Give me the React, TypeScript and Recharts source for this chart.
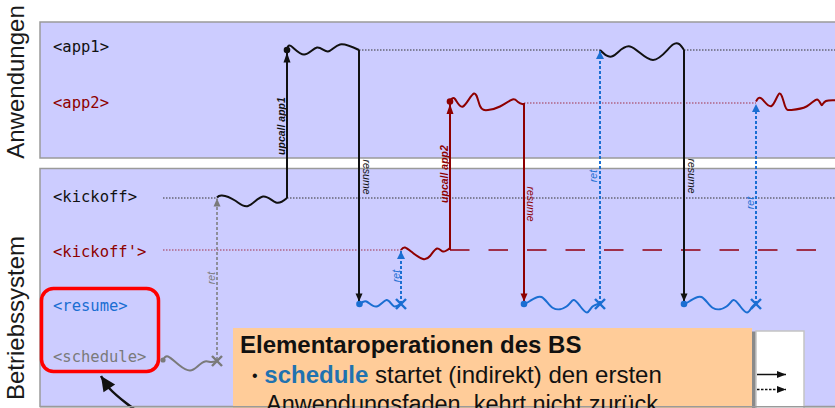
import React from 'react';
import { ComposedChart, Line, Scatter, XAxis, YAxis, ReferenceArea } from 'recharts';

type Pt = { x: number; y: number };

// ---------- lanes ----------
const laneNames = ['<app1>', '<app2>', '<kickoff>', "<kickoff'>", '<resume>', '<schedule>'];
const laneY = [50, 103, 198, 250, 304, 360];
const laneTextY = [51.5, 108, 201.5, 256.5, 311, 361.5];
const groupNames = ['Anwendungen', 'Betriebssystem'];
const groupCenters = [82, 318];

// ---------- event times ----------
const tSchedule = 163;
const tRet0 = 217;
const tUpcall1 = 287;
const tResume1 = 359;
const tRet1 = 401;
const tUpcall2 = 450;
const tResume2 = 524;
const tRet2 = 600;
const tResume3 = 684;
const tRet3 = 756;
const tDashEnd = 818;
const tEnd = 840;

// ---------- thread activity (squiggles) ----------
const app1Run1: Pt[] = [
  { x: 287, y: 50 }, { x: 291, y: 46 }, { x: 304, y: 54.5 }, { x: 317, y: 47.5 },
  { x: 328, y: 51.5 }, { x: 340, y: 44.5 }, { x: 359, y: 50 },
];
const app1Run2: Pt[] = [
  { x: 600, y: 50 }, { x: 613, y: 56 }, { x: 630, y: 46.5 }, { x: 653, y: 60 },
  { x: 673, y: 44.5 }, { x: 684, y: 50 },
];
const app2Run1: Pt[] = [
  { x: 450, y: 101 }, { x: 455, y: 99 }, { x: 463, y: 106.5 }, { x: 474, y: 93.5 },
  { x: 480, y: 106 }, { x: 488, y: 110 }, { x: 500, y: 106.5 }, { x: 512.5, y: 99.5 },
  { x: 518, y: 102 }, { x: 524, y: 104.5 },
];
const app2Run2: Pt[] = [
  { x: 756, y: 101.5 }, { x: 761.5, y: 98.5 }, { x: 771.5, y: 106 }, { x: 779.5, y: 93.5 },
  { x: 785, y: 106 }, { x: 791.5, y: 110 }, { x: 806.5, y: 106.5 }, { x: 817, y: 99.5 },
  { x: 821.5, y: 105 }, { x: 826, y: 101 }, { x: 840, y: 100.5 },
];
const kickoffRun: Pt[] = [
  { x: 217, y: 197.5 }, { x: 222, y: 195.5 }, { x: 235, y: 200.5 }, { x: 248, y: 206 },
  { x: 263, y: 196.5 }, { x: 276, y: 202.5 }, { x: 287, y: 198 },
];
const kickoffPRun: Pt[] = [
  { x: 401, y: 250 }, { x: 405, y: 247.5 }, { x: 413, y: 253 }, { x: 423, y: 259 },
  { x: 430, y: 256 }, { x: 437, y: 248.5 }, { x: 443, y: 251.5 }, { x: 450, y: 248 },
];
const resumeRun1: Pt[] = [
  { x: 360, y: 304 }, { x: 366.5, y: 301.5 }, { x: 376.5, y: 306.5 }, { x: 386.5, y: 300 },
  { x: 393.5, y: 306 }, { x: 401, y: 303.5 },
];
const resumeRun2: Pt[] = [
  { x: 524, y: 304 }, { x: 530, y: 301 }, { x: 541.5, y: 297 }, { x: 553, y: 308 },
  { x: 566.5, y: 306.5 }, { x: 573.5, y: 300 }, { x: 580, y: 306 }, { x: 587, y: 312.5 },
  { x: 592, y: 307 }, { x: 600, y: 303.5 },
];
const resumeRun3: Pt[] = [
  { x: 684, y: 304 }, { x: 690, y: 301 }, { x: 701.5, y: 297 }, { x: 713, y: 308 },
  { x: 726.5, y: 306.5 }, { x: 733.5, y: 300 }, { x: 740, y: 306 }, { x: 747, y: 312.5 },
  { x: 752, y: 307 }, { x: 756, y: 303.5 },
];
const scheduleRun: Pt[] = [
  { x: 163, y: 360 }, { x: 168, y: 356.5 }, { x: 179, y: 365 }, { x: 190, y: 370.5 },
  { x: 198, y: 366 }, { x: 205, y: 361.5 }, { x: 211, y: 362 }, { x: 217, y: 361 },
];
const pointerCurve: Pt[] = [
  { x: 140, y: 413 }, { x: 126, y: 403 }, { x: 109, y: 388 }, { x: 101, y: 376 },
];

// ---------- texts ----------
const upcallTexts = ['upcall app1', 'upcall app2'];
const resumeText = 'resume';
const retText = 'ret';
const noteTitle = 'Elementaroperationen des BS';
const noteBullet = '•';
const noteKeyword = 'schedule';
const noteLine1 = ' startet (indirekt) den ersten';
const noteLine2 = 'Anwendungsfaden, kehrt nicht zurück';

// ---------- styles ----------
const BLACK = '#111111';
const RED = '#8e0000';
const RED_LINE = '#a0304a';
const BLUE = '#1a6ed2';
const GREY = '#7a7a7a';
const PANEL = '#ccccff';
const PANEL_EDGE = '#9a9a9a';
const MONO = "'DejaVu Sans Mono', monospace";
const SANS = "'Liberation Sans', Arial, sans-serif";
const laneColors = [BLACK, RED, BLACK, RED, BLUE, GREY];

const headAt = (data: Pt[], color: string, len = 9, half = 4) => (props: any) => {
  const { cx, cy, index } = props;
  if (index !== data.length - 1 || cx == null || cy == null) return <g key={`h${index}`} />;
  const a = data[index];
  const b = data[index - 1];
  const ang = Math.atan2(a.y - b.y, a.x - b.x);
  const ux = Math.cos(ang);
  const uy = Math.sin(ang);
  const bx = cx - ux * len;
  const by = cy - uy * len;
  const pts = `${cx},${cy} ${bx - uy * half},${by + ux * half} ${bx + uy * half},${by - ux * half}`;
  return <polygon key={`h${index}`} points={pts} fill={color} stroke="none" />;
};

let lineKey = 0;
function seg(data: Pt[], stroke: string, opts: any = {}) {
  lineKey += 1;
  return (
    <Line
      key={`l${lineKey}`}
      data={data}
      dataKey="y"
      type={opts.type || 'linear'}
      stroke={stroke}
      strokeWidth={opts.w ?? 2}
      strokeDasharray={opts.dash}
      dot={opts.head ? headAt(data, stroke, opts.head[0], opts.head[1]) : false}
      activeDot={false}
      isAnimationActive={false}
      legendType="none"
      strokeLinecap="butt"
    />
  );
}

export default function App() {
  lineKey = 0;
  const L = laneY;

  const laneLabelData = laneNames.map((label, i) => ({ x: 53, y: laneTextY[i], label, i }));
  const groupLabelData = groupNames.map((label, i) => ({ x: 24, y: groupCenters[i], label }));

  const upcallLabelData = [
    { x: tUpcall1 - 2, y: 126, label: upcallTexts[0], c: BLACK },
    { x: tUpcall2 - 2, y: 174, label: upcallTexts[1], c: RED },
  ];
  const resumeLabelData = [
    { x: tResume1 + 4, y: 177, label: resumeText, c: BLACK },
    { x: tResume2 + 2.5, y: 204, label: resumeText, c: RED },
    { x: tResume3 + 3.5, y: 176, label: resumeText, c: BLACK },
  ];
  const retLabelData = [
    { x: tRet0 - 2.5, y: 278, label: retText, c: GREY },
    { x: tRet1 - 1.5, y: 276, label: retText, c: BLUE },
    { x: tRet2 - 3, y: 176, label: retText, c: BLUE },
    { x: tRet3 - 2, y: 203, label: retText, c: BLUE },
  ];

  const startDots = [
    { x: tUpcall1, y: L[0], c: BLACK, r: 3.3 },
    { x: tUpcall2, y: L[1] - 1.5, c: RED, r: 3.3 },
    { x: tResume1 + 0.5, y: L[4], c: BLUE, r: 3.3 },
    { x: tResume2, y: L[4], c: BLUE, r: 3.3 },
    { x: tResume3, y: L[4], c: BLUE, r: 3.3 },
    { x: tSchedule, y: L[5], c: GREY, r: 2.6 },
  ];
  const endCrosses = [
    { x: tRet0, y: L[5] + 1, c: GREY },
    { x: tRet1, y: L[4], c: BLUE },
    { x: tRet2, y: L[4], c: BLUE },
    { x: tRet3, y: L[4], c: BLUE },
  ];

  const noteData = [{ x: 240, y: 352.5 }];
  const legendArrows = [
    [{ x: 757, y: 374.5 }, { x: 786, y: 374.5 }],
    [{ x: 757, y: 389.5 }, { x: 786, y: 389.5 }],
  ];

  return (
    <div style={{ position: 'absolute', left: 0, top: 0, width: 835, height: 408, background: '#ffffff' }}>
      <ComposedChart width={835} height={408} margin={{ top: 0, right: 0, bottom: 0, left: 0 }}>
        <XAxis dataKey="x" type="number" domain={[0, 835]} hide allowDataOverflow />
        <YAxis dataKey="y" type="number" domain={[0, 408]} reversed hide allowDataOverflow />

        {/* panels */}
        <ReferenceArea x1={40} x2={845} y1={22} y2={158} fill={PANEL} fillOpacity={1} stroke={PANEL_EDGE} strokeWidth={1.5} ifOverflow="visible" />
        <ReferenceArea x1={40} x2={845} y1={168.5} y2={406.5} fill={PANEL} fillOpacity={1} stroke={PANEL_EDGE} strokeWidth={1.5} ifOverflow="visible" />

        {/* note box */}
        <ReferenceArea x1={236} x2={756} y1={331.5} y2={420} fill="#8a8a8a" fillOpacity={1} stroke="none" ifOverflow="visible" />
        <ReferenceArea x1={233} x2={752} y1={328} y2={420} fill="#ffcc99" fillOpacity={1} stroke="none" ifOverflow="visible" />
        <ReferenceArea x1={756} x2={804} y1={331} y2={420} fill="#ffffff" fillOpacity={1} stroke="#c4c4c4" strokeWidth={1.5} ifOverflow="visible" />

        {/* highlight */}
        <ReferenceArea x1={41.5} x2={158.5} y1={288.5} y2={371.5} radius={12} fill="none" fillOpacity={0} stroke="#ff0000" strokeWidth={3.5} ifOverflow="visible" />

        {/* idle (waiting) lines */}
        {seg([{ x: tSchedule, y: L[2] }, { x: tRet0, y: L[2] }], '#333333', { w: 1.2, dash: '1.5 1.5' })}
        {seg([{ x: tUpcall1, y: L[2] }, { x: tEnd, y: L[2] }], '#333333', { w: 1.2, dash: '1.5 1.5' })}
        {seg([{ x: tSchedule, y: L[3] }, { x: tRet1, y: L[3] }], RED_LINE, { w: 1.2, dash: '1.5 1.5' })}
        {seg([{ x: tUpcall2, y: L[3] }, { x: tDashEnd, y: L[3] }], RED_LINE, { w: 2, dash: '19.5 19' })}
        {seg([{ x: tResume1, y: L[0] }, { x: tRet2, y: L[0] }], '#333333', { w: 1.2, dash: '1.5 1.5' })}
        {seg([{ x: tResume3, y: L[0] }, { x: tEnd, y: L[0] }], '#333333', { w: 1.2, dash: '1.5 1.5' })}
        {seg([{ x: tResume2, y: L[1] }, { x: tRet3, y: L[1] }], RED_LINE, { w: 1.2, dash: '1.5 1.5' })}

        {/* running squiggles */}
        {seg(app1Run1, BLACK, { type: 'natural' })}
        {seg(app1Run2, BLACK, { type: 'natural' })}
        {seg(app2Run1, RED, { type: 'natural' })}
        {seg(app2Run2, RED, { type: 'natural' })}
        {seg(kickoffRun, BLACK, { type: 'natural' })}
        {seg(kickoffPRun, RED, { type: 'natural' })}
        {seg(resumeRun1, BLUE, { type: 'natural' })}
        {seg(resumeRun2, BLUE, { type: 'natural' })}
        {seg(resumeRun3, BLUE, { type: 'natural' })}
        {seg(scheduleRun, GREY, { type: 'natural' })}

        {/* control transfers */}
        {seg([{ x: tRet0, y: L[5] }, { x: tRet0, y: L[2] + 0.5 }], GREY, { w: 1.5, dash: '3 2', head: [8, 3.5] })}
        {seg([{ x: tUpcall1, y: L[2] }, { x: tUpcall1, y: L[0] + 2.5 }], BLACK, { w: 2, head: [10, 3.5] })}
        {seg([{ x: tResume1, y: L[0] }, { x: tResume1, y: L[4] - 2.5 }], BLACK, { w: 2, head: [8, 3.5] })}
        {seg([{ x: tRet1, y: L[4] }, { x: tRet1, y: L[3] + 1 }], BLUE, { w: 2, dash: '3 2', head: [8, 4] })}
        {seg([{ x: tUpcall2, y: L[3] }, { x: tUpcall2, y: L[1] + 1 }], RED, { w: 2, head: [10, 3.5] })}
        {seg([{ x: tResume2, y: L[1] }, { x: tResume2, y: L[4] - 2.5 }], RED, { w: 2, head: [8, 3.5] })}
        {seg([{ x: tRet2, y: L[4] }, { x: tRet2, y: L[0] + 1 }], BLUE, { w: 2, dash: '3 2', head: [8, 4] })}
        {seg([{ x: tResume3, y: L[0] }, { x: tResume3, y: L[4] - 2.5 }], BLACK, { w: 2, head: [8, 3.5] })}
        {seg([{ x: tRet3, y: L[4] }, { x: tRet3, y: L[1] + 1 }], BLUE, { w: 2, dash: '3 2', head: [8, 4] })}

        {/* legend arrows in the white box */}
        {seg(legendArrows[0], BLACK, { w: 1.5, head: [9, 3.5] })}
        {seg(legendArrows[1], BLACK, { w: 1.5, dash: '2.5 1.5', head: [9, 3.5] })}

        {/* pointer to highlighted lanes */}
        {seg(pointerCurve, BLACK, { type: 'natural', w: 2.5, head: [15, 7] })}

        {/* bottom edge of the OS panel */}
        {seg([{ x: 40, y: 406.8 }, { x: tEnd, y: 406.8 }], PANEL_EDGE, { w: 1.5 })}

        <Scatter
          data={startDots}
          isAnimationActive={false}
          legendType="none"
          shape={(p: any) => <circle cx={p.cx} cy={p.cy} r={p.payload.r} fill={p.payload.c} />}
        />
        <Scatter
          data={endCrosses}
          isAnimationActive={false}
          legendType="none"
          shape={(p: any) => (
            <g stroke={p.payload.c} strokeWidth={2.4}>
              <line x1={p.cx - 5} y1={p.cy - 5} x2={p.cx + 5} y2={p.cy + 5} />
              <line x1={p.cx - 5} y1={p.cy + 5} x2={p.cx + 5} y2={p.cy - 5} />
            </g>
          )}
        />

        <Scatter
          data={laneLabelData}
          isAnimationActive={false}
          legendType="none"
          shape={(p: any) => (
            <text x={p.cx} y={p.cy} fontFamily={MONO} fontSize={15.5} fill={laneColors[p.payload.i]}>
              {p.payload.label}
            </text>
          )}
        />
        <Scatter
          data={groupLabelData}
          isAnimationActive={false}
          legendType="none"
          shape={(p: any) => (
            <text
              x={p.cx}
              y={p.cy}
              transform={`rotate(-90 ${p.cx} ${p.cy})`}
              textAnchor="middle"
              fontFamily={SANS}
              fontSize={24}
              fill="#1a1a1a"
            >
              {p.payload.label}
            </text>
          )}
        />
        <Scatter
          data={upcallLabelData}
          isAnimationActive={false}
          legendType="none"
          shape={(p: any) => (
            <text
              x={p.cx}
              y={p.cy}
              transform={`rotate(-90 ${p.cx} ${p.cy})`}
              textAnchor="middle"
              fontFamily={SANS}
              fontSize={10.5}
              fontWeight="bold"
              fontStyle="italic"
              fill={p.payload.c}
            >
              {p.payload.label}
            </text>
          )}
        />
        <Scatter
          data={resumeLabelData}
          isAnimationActive={false}
          legendType="none"
          shape={(p: any) => (
            <text
              x={p.cx}
              y={p.cy}
              transform={`rotate(90 ${p.cx} ${p.cy})`}
              textAnchor="middle"
              fontFamily={SANS}
              fontSize={10.5}
              fontStyle="italic"
              fill={p.payload.c}
            >
              {p.payload.label}
            </text>
          )}
        />
        <Scatter
          data={retLabelData}
          isAnimationActive={false}
          legendType="none"
          shape={(p: any) => (
            <text
              x={p.cx}
              y={p.cy}
              transform={`rotate(-90 ${p.cx} ${p.cy})`}
              textAnchor="middle"
              fontFamily={SANS}
              fontSize={10.5}
              fontStyle="italic"
              fill={p.payload.c}
            >
              {p.payload.label}
            </text>
          )}
        />
        <Scatter
          data={noteData}
          isAnimationActive={false}
          legendType="none"
          shape={(p: any) => (
            <g fontFamily={SANS}>
              <text x={p.cx} y={p.cy} fontSize={24} fontWeight="bold" fill="#111">
                {noteTitle}
              </text>
              <text x={p.cx + 12} y={p.cy + 30} fontSize={24} fill="#111">
                <tspan fontSize={16} dy={-2}>{noteBullet}</tspan>
                <tspan dy={2}> </tspan>
                <tspan fontWeight="bold" fill="#1f72b0">{noteKeyword}</tspan>
                <tspan>{noteLine1}</tspan>
              </text>
              <text x={p.cx + 26} y={p.cy + 59.5} fontSize={23.5} fill="#111">
                {noteLine2}
              </text>
            </g>
          )}
        />
      </ComposedChart>
    </div>
  );
}
